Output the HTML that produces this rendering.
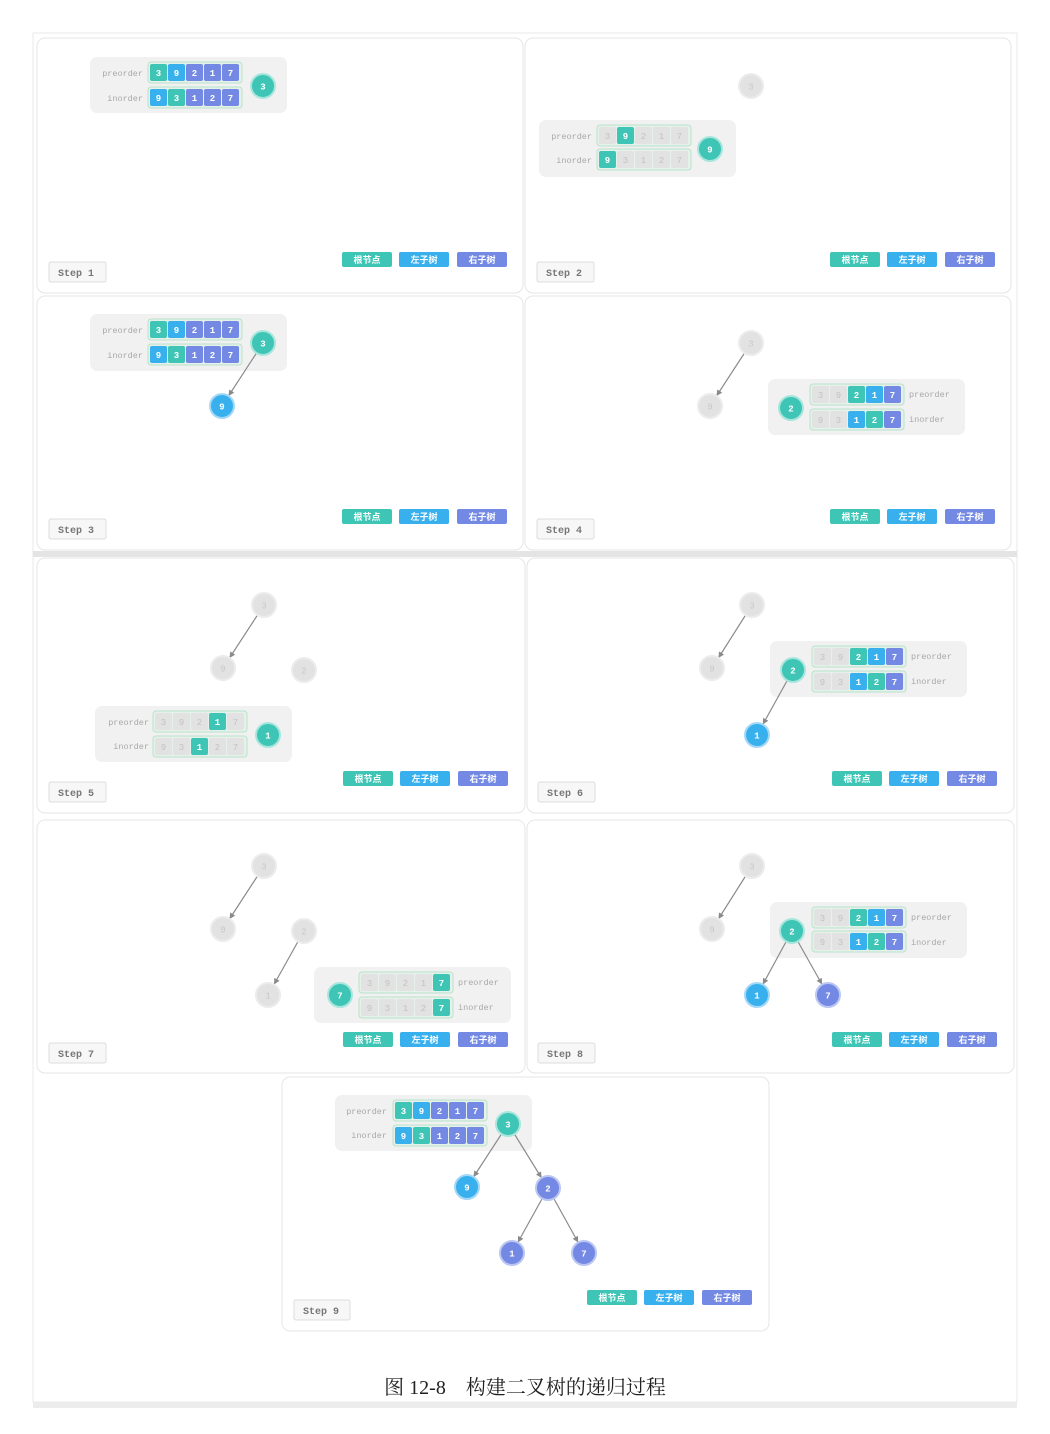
<!DOCTYPE html>
<html><head><meta charset="utf-8"><style>
html,body{margin:0;padding:0;background:#fff;}
svg{display:block}
.T{fill:#3ec5b5}.L{fill:#38b0ee}.R{fill:#7389e3}.G{fill:#e2e2e2}
.w{font:bold 9px "Liberation Mono",monospace;fill:#fff;text-anchor:middle}
.g{font:9px "Liberation Mono",monospace;fill:#c2c2c2;text-anchor:middle}
.lb{font:8.5px "Liberation Mono",monospace;fill:#a8a8a8}
.lr{text-anchor:end}
.box{fill:#f1f1f1}
.wr{fill:#e6f1ea;stroke:#b8e2cb;stroke-width:1}
.pn{fill:#fff;stroke:#e6e6e6;stroke-width:1}
.st{fill:#f7f7f7;stroke:#dcdcdc}
.stt{font:bold 10px "Liberation Mono",monospace;fill:#777}
.leg{font:bold 9px "Liberation Sans","Noto Sans CJK SC",sans-serif;fill:#fff;text-anchor:middle}
.ln{stroke:#8a8a8a;stroke-width:1.2;fill:none}
.ng{fill:#e2e2e2;stroke:#ececec;stroke-width:2}
.nt{font:bold 9px "Liberation Mono",monospace;fill:#fff;text-anchor:middle}
.ngt{font:9px "Liberation Mono",monospace;fill:#c8c8c8;text-anchor:middle}
</style></head><body>
<svg width="1050" height="1434" viewBox="0 0 1050 1434" xmlns="http://www.w3.org/2000/svg">
<defs>
<marker id="a" markerWidth="6" markerHeight="6" refX="5" refY="3" orient="auto"><path d="M0,0.5 L5,3 L0,5.5 Z" fill="#8a8a8a"/></marker>
</defs>
<rect x="0" y="0" width="1050" height="1434" fill="#fff"/>
<rect x="33" y="33" width="984" height="1369" fill="#fff" stroke="#e8e8e8"/>
<rect x="33" y="551" width="984" height="6" fill="#e4e4e4"/>
<rect x="33" y="1402" width="984" height="6" fill="#ececec"/>

<!-- panels -->
<rect class="pn" x="37" y="38" width="486" height="255" rx="8"/>
<rect class="pn" x="525" y="38" width="486" height="255" rx="8"/>
<rect class="pn" x="37" y="296" width="486" height="254" rx="8"/>
<rect class="pn" x="525" y="296" width="486" height="254" rx="8"/>
<rect class="pn" x="37" y="558" width="488" height="255" rx="8"/>
<rect class="pn" x="527" y="558" width="487" height="255" rx="8"/>
<rect class="pn" x="37" y="820" width="488" height="253" rx="8"/>
<rect class="pn" x="527" y="820" width="487" height="253" rx="8"/>
<rect class="pn" x="282" y="1077" width="487" height="254" rx="8"/>

<!-- step labels -->
<g>
<rect class="st" x="49" y="262" width="57" height="20" rx="2"/><text class="stt" x="58" y="276">Step 1</text>
<rect class="st" x="537" y="262" width="57" height="20" rx="2"/><text class="stt" x="546" y="276">Step 2</text>
<rect class="st" x="49" y="519" width="57" height="20" rx="2"/><text class="stt" x="58" y="533">Step 3</text>
<rect class="st" x="537" y="519" width="57" height="20" rx="2"/><text class="stt" x="546" y="533">Step 4</text>
<rect class="st" x="49" y="782" width="57" height="20" rx="2"/><text class="stt" x="58" y="796">Step 5</text>
<rect class="st" x="538" y="782" width="57" height="20" rx="2"/><text class="stt" x="547" y="796">Step 6</text>
<rect class="st" x="49" y="1043" width="57" height="20" rx="2"/><text class="stt" x="58" y="1057">Step 7</text>
<rect class="st" x="538" y="1043" width="57" height="20" rx="2"/><text class="stt" x="547" y="1057">Step 8</text>
<rect class="st" x="294" y="1300" width="56" height="20" rx="2"/><text class="stt" x="303" y="1314">Step 9</text>
</g>

<!-- legends -->
<g>
<rect class="T" x="342" y="252" width="50" height="15" rx="2"/><text class="leg" x="367" y="263">根节点</text>
<rect class="L" x="399" y="252" width="50" height="15" rx="2"/><text class="leg" x="424" y="263">左子树</text>
<rect class="R" x="457" y="252" width="50" height="15" rx="2"/><text class="leg" x="482" y="263">右子树</text>
<rect class="T" x="830" y="252" width="50" height="15" rx="2"/><text class="leg" x="855" y="263">根节点</text>
<rect class="L" x="887" y="252" width="50" height="15" rx="2"/><text class="leg" x="912" y="263">左子树</text>
<rect class="R" x="945" y="252" width="50" height="15" rx="2"/><text class="leg" x="970" y="263">右子树</text>
<rect class="T" x="342" y="509" width="50" height="15" rx="2"/><text class="leg" x="367" y="520">根节点</text>
<rect class="L" x="399" y="509" width="50" height="15" rx="2"/><text class="leg" x="424" y="520">左子树</text>
<rect class="R" x="457" y="509" width="50" height="15" rx="2"/><text class="leg" x="482" y="520">右子树</text>
<rect class="T" x="830" y="509" width="50" height="15" rx="2"/><text class="leg" x="855" y="520">根节点</text>
<rect class="L" x="887" y="509" width="50" height="15" rx="2"/><text class="leg" x="912" y="520">左子树</text>
<rect class="R" x="945" y="509" width="50" height="15" rx="2"/><text class="leg" x="970" y="520">右子树</text>
<rect class="T" x="343" y="771" width="50" height="15" rx="2"/><text class="leg" x="368" y="782">根节点</text>
<rect class="L" x="400" y="771" width="50" height="15" rx="2"/><text class="leg" x="425" y="782">左子树</text>
<rect class="R" x="458" y="771" width="50" height="15" rx="2"/><text class="leg" x="483" y="782">右子树</text>
<rect class="T" x="832" y="771" width="50" height="15" rx="2"/><text class="leg" x="857" y="782">根节点</text>
<rect class="L" x="889" y="771" width="50" height="15" rx="2"/><text class="leg" x="914" y="782">左子树</text>
<rect class="R" x="947" y="771" width="50" height="15" rx="2"/><text class="leg" x="972" y="782">右子树</text>
<rect class="T" x="343" y="1032" width="50" height="15" rx="2"/><text class="leg" x="368" y="1043">根节点</text>
<rect class="L" x="400" y="1032" width="50" height="15" rx="2"/><text class="leg" x="425" y="1043">左子树</text>
<rect class="R" x="458" y="1032" width="50" height="15" rx="2"/><text class="leg" x="483" y="1043">右子树</text>
<rect class="T" x="832" y="1032" width="50" height="15" rx="2"/><text class="leg" x="857" y="1043">根节点</text>
<rect class="L" x="889" y="1032" width="50" height="15" rx="2"/><text class="leg" x="914" y="1043">左子树</text>
<rect class="R" x="947" y="1032" width="50" height="15" rx="2"/><text class="leg" x="972" y="1043">右子树</text>
<rect class="T" x="587" y="1290" width="50" height="15" rx="2"/><text class="leg" x="612" y="1301">根节点</text>
<rect class="L" x="644" y="1290" width="50" height="15" rx="2"/><text class="leg" x="669" y="1301">左子树</text>
<rect class="R" x="702" y="1290" width="50" height="15" rx="2"/><text class="leg" x="727" y="1301">右子树</text>
</g>

<!-- STEP 1 -->
<rect class="box" x="90" y="57" width="197" height="56" rx="7"/>
<text class="lb lr" x="143" y="76">preorder</text><text class="lb lr" x="143" y="101">inorder</text>
<rect class="wr" x="148" y="62" width="94" height="21" rx="3"/><rect class="wr" x="148" y="87" width="94" height="21" rx="3"/>
<rect class="T" x="150" y="64" width="17" height="17" rx="2"/><text class="w" x="158.5" y="76">3</text>
<rect class="L" x="168" y="64" width="17" height="17" rx="2"/><text class="w" x="176.5" y="76">9</text>
<rect class="R" x="186" y="64" width="17" height="17" rx="2"/><text class="w" x="194.5" y="76">2</text>
<rect class="R" x="204" y="64" width="17" height="17" rx="2"/><text class="w" x="212.5" y="76">1</text>
<rect class="R" x="222" y="64" width="17" height="17" rx="2"/><text class="w" x="230.5" y="76">7</text>
<rect class="L" x="150" y="89" width="17" height="17" rx="2"/><text class="w" x="158.5" y="101">9</text>
<rect class="T" x="168" y="89" width="17" height="17" rx="2"/><text class="w" x="176.5" y="101">3</text>
<rect class="R" x="186" y="89" width="17" height="17" rx="2"/><text class="w" x="194.5" y="101">1</text>
<rect class="R" x="204" y="89" width="17" height="17" rx="2"/><text class="w" x="212.5" y="101">2</text>
<rect class="R" x="222" y="89" width="17" height="17" rx="2"/><text class="w" x="230.5" y="101">7</text>
<circle class="T" cx="263" cy="86" r="12" stroke="#a8e6dd" stroke-width="2"/><text class="nt" x="263" y="89.5">3</text>

<!-- STEP 2 -->
<circle class="ng" cx="751" cy="86" r="12"/><text class="ngt" x="751" y="89.5">3</text>
<rect class="box" x="539" y="120" width="197" height="57" rx="7"/>
<text class="lb lr" x="592" y="139">preorder</text><text class="lb lr" x="592" y="163">inorder</text>
<rect class="wr" x="597" y="125" width="94" height="21" rx="3"/><rect class="wr" x="597" y="149" width="94" height="21" rx="3"/>
<rect class="G" x="599" y="127" width="17" height="17" rx="2"/><text class="g" x="607.5" y="139">3</text>
<rect class="T" x="617" y="127" width="17" height="17" rx="2"/><text class="w" x="625.5" y="139">9</text>
<rect class="G" x="635" y="127" width="17" height="17" rx="2"/><text class="g" x="643.5" y="139">2</text>
<rect class="G" x="653" y="127" width="17" height="17" rx="2"/><text class="g" x="661.5" y="139">1</text>
<rect class="G" x="671" y="127" width="17" height="17" rx="2"/><text class="g" x="679.5" y="139">7</text>
<rect class="T" x="599" y="151" width="17" height="17" rx="2"/><text class="w" x="607.5" y="163">9</text>
<rect class="G" x="617" y="151" width="17" height="17" rx="2"/><text class="g" x="625.5" y="163">3</text>
<rect class="G" x="635" y="151" width="17" height="17" rx="2"/><text class="g" x="643.5" y="163">1</text>
<rect class="G" x="653" y="151" width="17" height="17" rx="2"/><text class="g" x="661.5" y="163">2</text>
<rect class="G" x="671" y="151" width="17" height="17" rx="2"/><text class="g" x="679.5" y="163">7</text>
<circle class="T" cx="710" cy="149" r="12" stroke="#a8e6dd" stroke-width="2"/><text class="nt" x="710" y="152.5">9</text>

<!-- STEP 3 -->
<rect class="box" x="90" y="314" width="197" height="57" rx="7"/>
<text class="lb lr" x="143" y="333">preorder</text><text class="lb lr" x="143" y="358">inorder</text>
<rect class="wr" x="148" y="319" width="94" height="21" rx="3"/><rect class="wr" x="148" y="344" width="94" height="21" rx="3"/>
<rect class="T" x="150" y="321" width="17" height="17" rx="2"/><text class="w" x="158.5" y="333">3</text>
<rect class="L" x="168" y="321" width="17" height="17" rx="2"/><text class="w" x="176.5" y="333">9</text>
<rect class="R" x="186" y="321" width="17" height="17" rx="2"/><text class="w" x="194.5" y="333">2</text>
<rect class="R" x="204" y="321" width="17" height="17" rx="2"/><text class="w" x="212.5" y="333">1</text>
<rect class="R" x="222" y="321" width="17" height="17" rx="2"/><text class="w" x="230.5" y="333">7</text>
<rect class="L" x="150" y="346" width="17" height="17" rx="2"/><text class="w" x="158.5" y="358">9</text>
<rect class="T" x="168" y="346" width="17" height="17" rx="2"/><text class="w" x="176.5" y="358">3</text>
<rect class="R" x="186" y="346" width="17" height="17" rx="2"/><text class="w" x="194.5" y="358">1</text>
<rect class="R" x="204" y="346" width="17" height="17" rx="2"/><text class="w" x="212.5" y="358">2</text>
<rect class="R" x="222" y="346" width="17" height="17" rx="2"/><text class="w" x="230.5" y="358">7</text>
<line class="ln" x1="256.5" y1="353" x2="228.5" y2="396" marker-end="url(#a)"/>
<circle class="T" cx="263" cy="343" r="12" stroke="#a8e6dd" stroke-width="2"/><text class="nt" x="263" y="346.5">3</text>
<circle class="L" cx="222" cy="406" r="12" stroke="#a5d8f6" stroke-width="2"/><text class="nt" x="222" y="409.5">9</text>

<!-- STEP 4 -->
<line class="ln" x1="744.5" y1="353" x2="716.5" y2="396" marker-end="url(#a)"/>
<circle class="ng" cx="751" cy="343" r="12"/><text class="ngt" x="751" y="346.5">3</text>
<circle class="ng" cx="710" cy="406" r="12"/><text class="ngt" x="710" y="409.5">9</text>
<rect class="box" x="768" y="379" width="197" height="56" rx="7"/>
<text class="lb" x="909" y="397">preorder</text><text class="lb" x="909" y="422">inorder</text>
<rect class="wr" x="810" y="384" width="94" height="21" rx="3"/><rect class="wr" x="810" y="409" width="94" height="21" rx="3"/>
<rect class="G" x="812" y="386" width="17" height="17" rx="2"/><text class="g" x="820.5" y="398">3</text>
<rect class="G" x="830" y="386" width="17" height="17" rx="2"/><text class="g" x="838.5" y="398">9</text>
<rect class="T" x="848" y="386" width="17" height="17" rx="2"/><text class="w" x="856.5" y="398">2</text>
<rect class="L" x="866" y="386" width="17" height="17" rx="2"/><text class="w" x="874.5" y="398">1</text>
<rect class="R" x="884" y="386" width="17" height="17" rx="2"/><text class="w" x="892.5" y="398">7</text>
<rect class="G" x="812" y="411" width="17" height="17" rx="2"/><text class="g" x="820.5" y="423">9</text>
<rect class="G" x="830" y="411" width="17" height="17" rx="2"/><text class="g" x="838.5" y="423">3</text>
<rect class="L" x="848" y="411" width="17" height="17" rx="2"/><text class="w" x="856.5" y="423">1</text>
<rect class="T" x="866" y="411" width="17" height="17" rx="2"/><text class="w" x="874.5" y="423">2</text>
<rect class="R" x="884" y="411" width="17" height="17" rx="2"/><text class="w" x="892.5" y="423">7</text>
<circle class="T" cx="791" cy="408" r="12" stroke="#a8e6dd" stroke-width="2"/><text class="nt" x="791" y="411.5">2</text>

<!-- STEP 5 -->
<line class="ln" x1="257.5" y1="615" x2="229.5" y2="658" marker-end="url(#a)"/>
<circle class="ng" cx="264" cy="605" r="12"/><text class="ngt" x="264" y="608.5">3</text>
<circle class="ng" cx="223" cy="668" r="12"/><text class="ngt" x="223" y="671.5">9</text>
<circle class="ng" cx="304" cy="670" r="12"/><text class="ngt" x="304" y="673.5">2</text>
<rect class="box" x="95" y="706" width="197" height="56" rx="7"/>
<text class="lb lr" x="149" y="725">preorder</text><text class="lb lr" x="149" y="749">inorder</text>
<rect class="wr" x="153" y="711" width="94" height="21" rx="3"/><rect class="wr" x="153" y="736" width="94" height="21" rx="3"/>
<rect class="G" x="155" y="713" width="17" height="17" rx="2"/><text class="g" x="163.5" y="725">3</text>
<rect class="G" x="173" y="713" width="17" height="17" rx="2"/><text class="g" x="181.5" y="725">9</text>
<rect class="G" x="191" y="713" width="17" height="17" rx="2"/><text class="g" x="199.5" y="725">2</text>
<rect class="T" x="209" y="713" width="17" height="17" rx="2"/><text class="w" x="217.5" y="725">1</text>
<rect class="G" x="227" y="713" width="17" height="17" rx="2"/><text class="g" x="235.5" y="725">7</text>
<rect class="G" x="155" y="738" width="17" height="17" rx="2"/><text class="g" x="163.5" y="750">9</text>
<rect class="G" x="173" y="738" width="17" height="17" rx="2"/><text class="g" x="181.5" y="750">3</text>
<rect class="T" x="191" y="738" width="17" height="17" rx="2"/><text class="w" x="199.5" y="750">1</text>
<rect class="G" x="209" y="738" width="17" height="17" rx="2"/><text class="g" x="217.5" y="750">2</text>
<rect class="G" x="227" y="738" width="17" height="17" rx="2"/><text class="g" x="235.5" y="750">7</text>
<circle class="T" cx="268" cy="735" r="12" stroke="#a8e6dd" stroke-width="2"/><text class="nt" x="268" y="738.5">1</text>

<!-- STEP 6 -->
<line class="ln" x1="745.6" y1="615" x2="718.4" y2="658" marker-end="url(#a)"/>
<circle class="ng" cx="752" cy="605" r="12"/><text class="ngt" x="752" y="608.5">3</text>
<circle class="ng" cx="712" cy="668" r="12"/><text class="ngt" x="712" y="671.5">9</text>
<rect class="box" x="770" y="641" width="197" height="56" rx="7"/>
<text class="lb" x="911" y="659">preorder</text><text class="lb" x="911" y="684">inorder</text>
<rect class="wr" x="812" y="646" width="94" height="21" rx="3"/><rect class="wr" x="812" y="671" width="94" height="21" rx="3"/>
<rect class="G" x="814" y="648" width="17" height="17" rx="2"/><text class="g" x="822.5" y="660">3</text>
<rect class="G" x="832" y="648" width="17" height="17" rx="2"/><text class="g" x="840.5" y="660">9</text>
<rect class="T" x="850" y="648" width="17" height="17" rx="2"/><text class="w" x="858.5" y="660">2</text>
<rect class="L" x="868" y="648" width="17" height="17" rx="2"/><text class="w" x="876.5" y="660">1</text>
<rect class="R" x="886" y="648" width="17" height="17" rx="2"/><text class="w" x="894.5" y="660">7</text>
<rect class="G" x="814" y="673" width="17" height="17" rx="2"/><text class="g" x="822.5" y="685">9</text>
<rect class="G" x="832" y="673" width="17" height="17" rx="2"/><text class="g" x="840.5" y="685">3</text>
<rect class="L" x="850" y="673" width="17" height="17" rx="2"/><text class="w" x="858.5" y="685">1</text>
<rect class="T" x="868" y="673" width="17" height="17" rx="2"/><text class="w" x="876.5" y="685">2</text>
<rect class="R" x="886" y="673" width="17" height="17" rx="2"/><text class="w" x="894.5" y="685">7</text>
<line class="ln" x1="787.2" y1="680.5" x2="762.8" y2="724.5" marker-end="url(#a)"/>
<circle class="T" cx="793" cy="670" r="12" stroke="#a8e6dd" stroke-width="2"/><text class="nt" x="793" y="673.5">2</text>
<circle class="L" cx="757" cy="735" r="12" stroke="#a5d8f6" stroke-width="2"/><text class="nt" x="757" y="738.5">1</text>

<!-- STEP 7 -->
<line class="ln" x1="257.5" y1="876" x2="229.5" y2="919" marker-end="url(#a)"/>
<line class="ln" x1="298" y1="941.5" x2="274" y2="984.5" marker-end="url(#a)"/>
<circle class="ng" cx="264" cy="866" r="12"/><text class="ngt" x="264" y="869.5">3</text>
<circle class="ng" cx="223" cy="929" r="12"/><text class="ngt" x="223" y="932.5">9</text>
<circle class="ng" cx="304" cy="931" r="12"/><text class="ngt" x="304" y="934.5">2</text>
<circle class="ng" cx="268" cy="995" r="12"/><text class="ngt" x="268" y="998.5">1</text>
<rect class="box" x="314" y="967" width="197" height="56" rx="7"/>
<text class="lb" x="458" y="985">preorder</text><text class="lb" x="458" y="1010">inorder</text>
<rect class="wr" x="359" y="972" width="94" height="21" rx="3"/><rect class="wr" x="359" y="997" width="94" height="21" rx="3"/>
<rect class="G" x="361" y="974" width="17" height="17" rx="2"/><text class="g" x="369.5" y="986">3</text>
<rect class="G" x="379" y="974" width="17" height="17" rx="2"/><text class="g" x="387.5" y="986">9</text>
<rect class="G" x="397" y="974" width="17" height="17" rx="2"/><text class="g" x="405.5" y="986">2</text>
<rect class="G" x="415" y="974" width="17" height="17" rx="2"/><text class="g" x="423.5" y="986">1</text>
<rect class="T" x="433" y="974" width="17" height="17" rx="2"/><text class="w" x="441.5" y="986">7</text>
<rect class="G" x="361" y="999" width="17" height="17" rx="2"/><text class="g" x="369.5" y="1011">9</text>
<rect class="G" x="379" y="999" width="17" height="17" rx="2"/><text class="g" x="387.5" y="1011">3</text>
<rect class="G" x="397" y="999" width="17" height="17" rx="2"/><text class="g" x="405.5" y="1011">1</text>
<rect class="G" x="415" y="999" width="17" height="17" rx="2"/><text class="g" x="423.5" y="1011">2</text>
<rect class="T" x="433" y="999" width="17" height="17" rx="2"/><text class="w" x="441.5" y="1011">7</text>
<circle class="T" cx="340" cy="995" r="12" stroke="#a8e6dd" stroke-width="2"/><text class="nt" x="340" y="998.5">7</text>

<!-- STEP 8 -->
<line class="ln" x1="745.6" y1="876" x2="718.4" y2="919" marker-end="url(#a)"/>
<circle class="ng" cx="752" cy="866" r="12"/><text class="ngt" x="752" y="869.5">3</text>
<circle class="ng" cx="712" cy="929" r="12"/><text class="ngt" x="712" y="932.5">9</text>
<rect class="box" x="770" y="902" width="197" height="56" rx="7"/>
<text class="lb" x="911" y="920">preorder</text><text class="lb" x="911" y="945">inorder</text>
<rect class="wr" x="812" y="907" width="94" height="21" rx="3"/><rect class="wr" x="812" y="931" width="94" height="21" rx="3"/>
<rect class="G" x="814" y="909" width="17" height="17" rx="2"/><text class="g" x="822.5" y="921">3</text>
<rect class="G" x="832" y="909" width="17" height="17" rx="2"/><text class="g" x="840.5" y="921">9</text>
<rect class="T" x="850" y="909" width="17" height="17" rx="2"/><text class="w" x="858.5" y="921">2</text>
<rect class="L" x="868" y="909" width="17" height="17" rx="2"/><text class="w" x="876.5" y="921">1</text>
<rect class="R" x="886" y="909" width="17" height="17" rx="2"/><text class="w" x="894.5" y="921">7</text>
<rect class="G" x="814" y="933" width="17" height="17" rx="2"/><text class="g" x="822.5" y="945">9</text>
<rect class="G" x="832" y="933" width="17" height="17" rx="2"/><text class="g" x="840.5" y="945">3</text>
<rect class="L" x="850" y="933" width="17" height="17" rx="2"/><text class="w" x="858.5" y="945">1</text>
<rect class="T" x="868" y="933" width="17" height="17" rx="2"/><text class="w" x="876.5" y="945">2</text>
<rect class="R" x="886" y="933" width="17" height="17" rx="2"/><text class="w" x="894.5" y="945">7</text>
<line class="ln" x1="786.2" y1="941.5" x2="762.8" y2="984.5" marker-end="url(#a)"/>
<line class="ln" x1="797.9" y1="941.5" x2="822.1" y2="984.5" marker-end="url(#a)"/>
<circle class="T" cx="792" cy="931" r="12" stroke="#a8e6dd" stroke-width="2"/><text class="nt" x="792" y="934.5">2</text>
<circle class="L" cx="757" cy="995" r="12" stroke="#a5d8f6" stroke-width="2"/><text class="nt" x="757" y="998.5">1</text>
<circle class="R" cx="828" cy="995" r="12" stroke="#bcc6f2" stroke-width="2"/><text class="nt" x="828" y="998.5">7</text>

<!-- STEP 9 -->
<rect class="box" x="335" y="1095" width="197" height="56" rx="7"/>
<text class="lb lr" x="387" y="1114">preorder</text><text class="lb lr" x="387" y="1138">inorder</text>
<rect class="wr" x="393" y="1100" width="94" height="21" rx="3"/><rect class="wr" x="393" y="1125" width="94" height="21" rx="3"/>
<rect class="T" x="395" y="1102" width="17" height="17" rx="2"/><text class="w" x="403.5" y="1114">3</text>
<rect class="L" x="413" y="1102" width="17" height="17" rx="2"/><text class="w" x="421.5" y="1114">9</text>
<rect class="R" x="431" y="1102" width="17" height="17" rx="2"/><text class="w" x="439.5" y="1114">2</text>
<rect class="R" x="449" y="1102" width="17" height="17" rx="2"/><text class="w" x="457.5" y="1114">1</text>
<rect class="R" x="467" y="1102" width="17" height="17" rx="2"/><text class="w" x="475.5" y="1114">7</text>
<rect class="L" x="395" y="1127" width="17" height="17" rx="2"/><text class="w" x="403.5" y="1139">9</text>
<rect class="T" x="413" y="1127" width="17" height="17" rx="2"/><text class="w" x="421.5" y="1139">3</text>
<rect class="R" x="431" y="1127" width="17" height="17" rx="2"/><text class="w" x="439.5" y="1139">1</text>
<rect class="R" x="449" y="1127" width="17" height="17" rx="2"/><text class="w" x="457.5" y="1139">2</text>
<rect class="R" x="467" y="1127" width="17" height="17" rx="2"/><text class="w" x="475.5" y="1139">7</text>
<line class="ln" x1="501.5" y1="1134" x2="473.5" y2="1177" marker-end="url(#a)"/>
<line class="ln" x1="514.4" y1="1134" x2="541.6" y2="1178" marker-end="url(#a)"/>
<line class="ln" x1="542.2" y1="1198.5" x2="517.8" y2="1242.5" marker-end="url(#a)"/>
<line class="ln" x1="553.8" y1="1198.5" x2="578.2" y2="1242.5" marker-end="url(#a)"/>
<circle class="T" cx="508" cy="1124" r="12" stroke="#a8e6dd" stroke-width="2"/><text class="nt" x="508" y="1127.5">3</text>
<circle class="L" cx="467" cy="1187" r="12" stroke="#a5d8f6" stroke-width="2"/><text class="nt" x="467" y="1190.5">9</text>
<circle class="R" cx="548" cy="1188" r="12" stroke="#bcc6f2" stroke-width="2"/><text class="nt" x="548" y="1191.5">2</text>
<circle class="R" cx="512" cy="1253" r="12" stroke="#bcc6f2" stroke-width="2"/><text class="nt" x="512" y="1256.5">1</text>
<circle class="R" cx="584" cy="1253" r="12" stroke="#bcc6f2" stroke-width="2"/><text class="nt" x="584" y="1256.5">7</text>

<!-- caption -->
<text x="525" y="1394" text-anchor="middle" style="font:20px 'Liberation Serif','Noto Serif CJK SC',serif;fill:#222">图 12-8　构建二叉树的递归过程</text>
</svg>
</body></html>
